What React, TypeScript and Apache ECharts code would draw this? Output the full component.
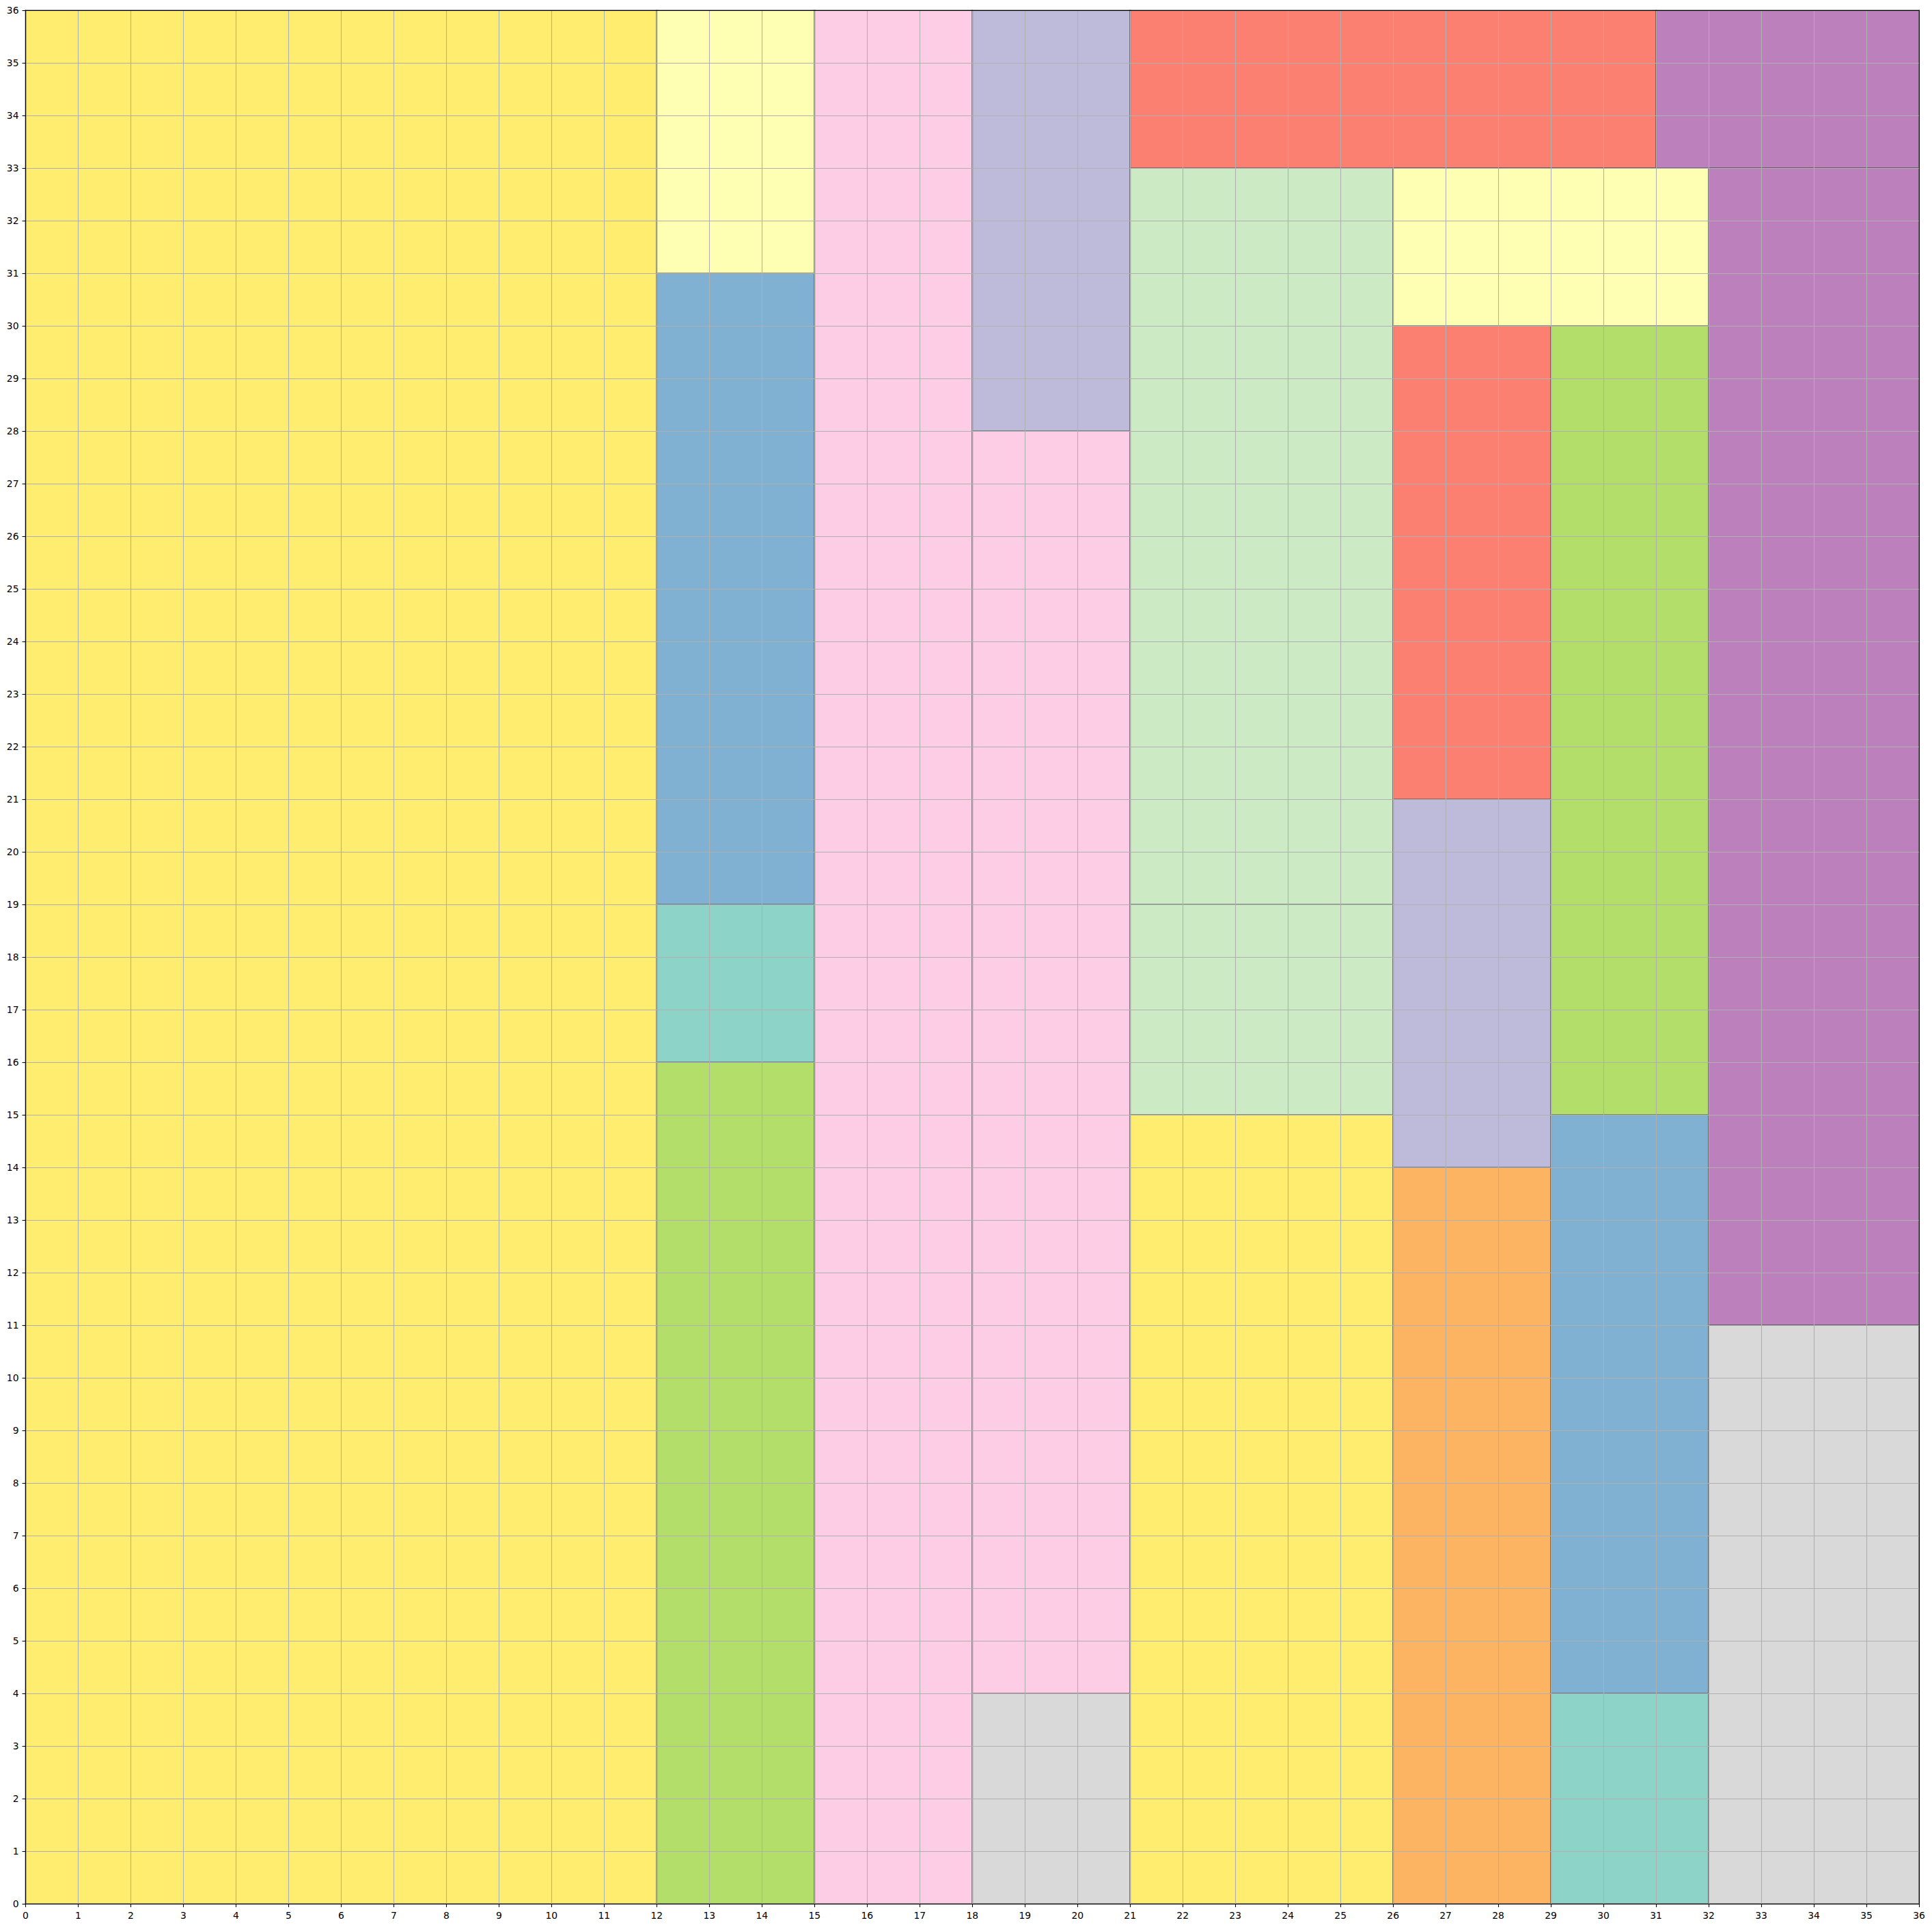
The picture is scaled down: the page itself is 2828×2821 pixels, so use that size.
import React, { useEffect, useRef } from "react";
import * as echarts from "echarts";

// Rectangle layout (data units): lower-left corner, width, height, colour
const rectX = [0, 12, 12, 12, 12, 15, 18, 18, 18, 21, 21, 21, 21, 26, 26, 26, 29, 29, 29, 26, 31, 32, 32];
const rectY = [0, 0, 16, 19, 31, 0, 0, 4, 28, 0, 15, 19, 33, 0, 14, 21, 0, 4, 15, 30, 33, 11, 0];
const rectW = [12, 3, 3, 3, 3, 3, 3, 3, 3, 5, 5, 5, 10, 3, 3, 3, 3, 3, 3, 6, 5, 4, 4];
const rectH = [36, 16, 3, 12, 5, 36, 4, 24, 8, 15, 4, 14, 3, 14, 7, 9, 4, 11, 15, 3, 3, 22, 11];
const rectColor = [
  "#ffed6f", "#b3de69", "#8dd3c7", "#80b1d3", "#ffffb3", "#fccde5", "#d9d9d9", "#fccde5",
  "#bebada", "#ffed6f", "#ccebc5", "#ccebc5", "#fb8072", "#fdb462", "#bebada", "#fb8072",
  "#8dd3c7", "#80b1d3", "#b3de69", "#ffffb3", "#bc80bd", "#bc80bd", "#d9d9d9",
];
const axisMin = 0;
const axisMax = 36;
const axisStep = 1;

export default function App() {
  const ref = useRef<HTMLDivElement>(null);
  useEffect(() => {
    if (!ref.current) return;
    const chart = echarts.init(ref.current, undefined, { renderer: "svg" });
    const data = rectX.map((x, i) => [x, rectY[i], rectW[i], rectH[i], i]);
    const font = { fontFamily: "DejaVu Sans", fontSize: 13.9, color: "#000" };
    const mainX = {
      type: "value",
      min: axisMin,
      max: axisMax,
      interval: axisStep,
      z: 10,
      axisLine: { show: true, onZero: false, lineStyle: { color: "#000", width: 1.1 } },
      axisTick: { show: true, length: 5, lineStyle: { color: "#000", width: 1.1 } },
      axisLabel: { ...font, margin: 10 },
      splitLine: { show: true, lineStyle: { color: "#b0b0b0", width: 1.1 } },
    };
    const frame = {
      type: "value",
      min: axisMin,
      max: axisMax,
      z: 10,
      axisLine: { show: true, onZero: false, lineStyle: { color: "#000", width: 1.1 } },
      axisTick: { show: false },
      axisLabel: { show: false },
      splitLine: { show: false },
    };
    chart.setOption({
      animation: false,
      backgroundColor: "#ffffff",
      grid: { left: 37.5, right: 19, top: 15, bottom: 34, containLabel: false },
      xAxis: [
        { ...mainX, position: "bottom" },
        { ...frame, position: "top" },
      ],
      yAxis: [
        { ...mainX, position: "left" },
        { ...frame, position: "right" },
      ],
      series: [
        {
          type: "custom",
          xAxisIndex: 0,
          yAxisIndex: 0,
          z: 2,
          data,
          encode: { x: [0], y: [1] },
          renderItem: (params: any, api: any) => {
            const x0 = api.value(0);
            const y0 = api.value(1);
            const w = api.value(2);
            const h = api.value(3);
            const idx = api.value(4);
            const p0 = api.coord([x0, y0 + h]);
            const p1 = api.coord([x0 + w, y0]);
            return {
              type: "rect",
              shape: { x: p0[0], y: p0[1], width: p1[0] - p0[0], height: p1[1] - p0[1] },
              style: { fill: rectColor[idx], stroke: "rgba(85,85,85,0.6)", lineWidth: 2 },
            };
          },
        },
      ],
    });
    return () => chart.dispose();
  }, []);
  return (
    <div
      ref={ref}
      style={{ position: "absolute", left: 0, top: 0, width: 2828, height: 2821 }}
    />
  );
}
